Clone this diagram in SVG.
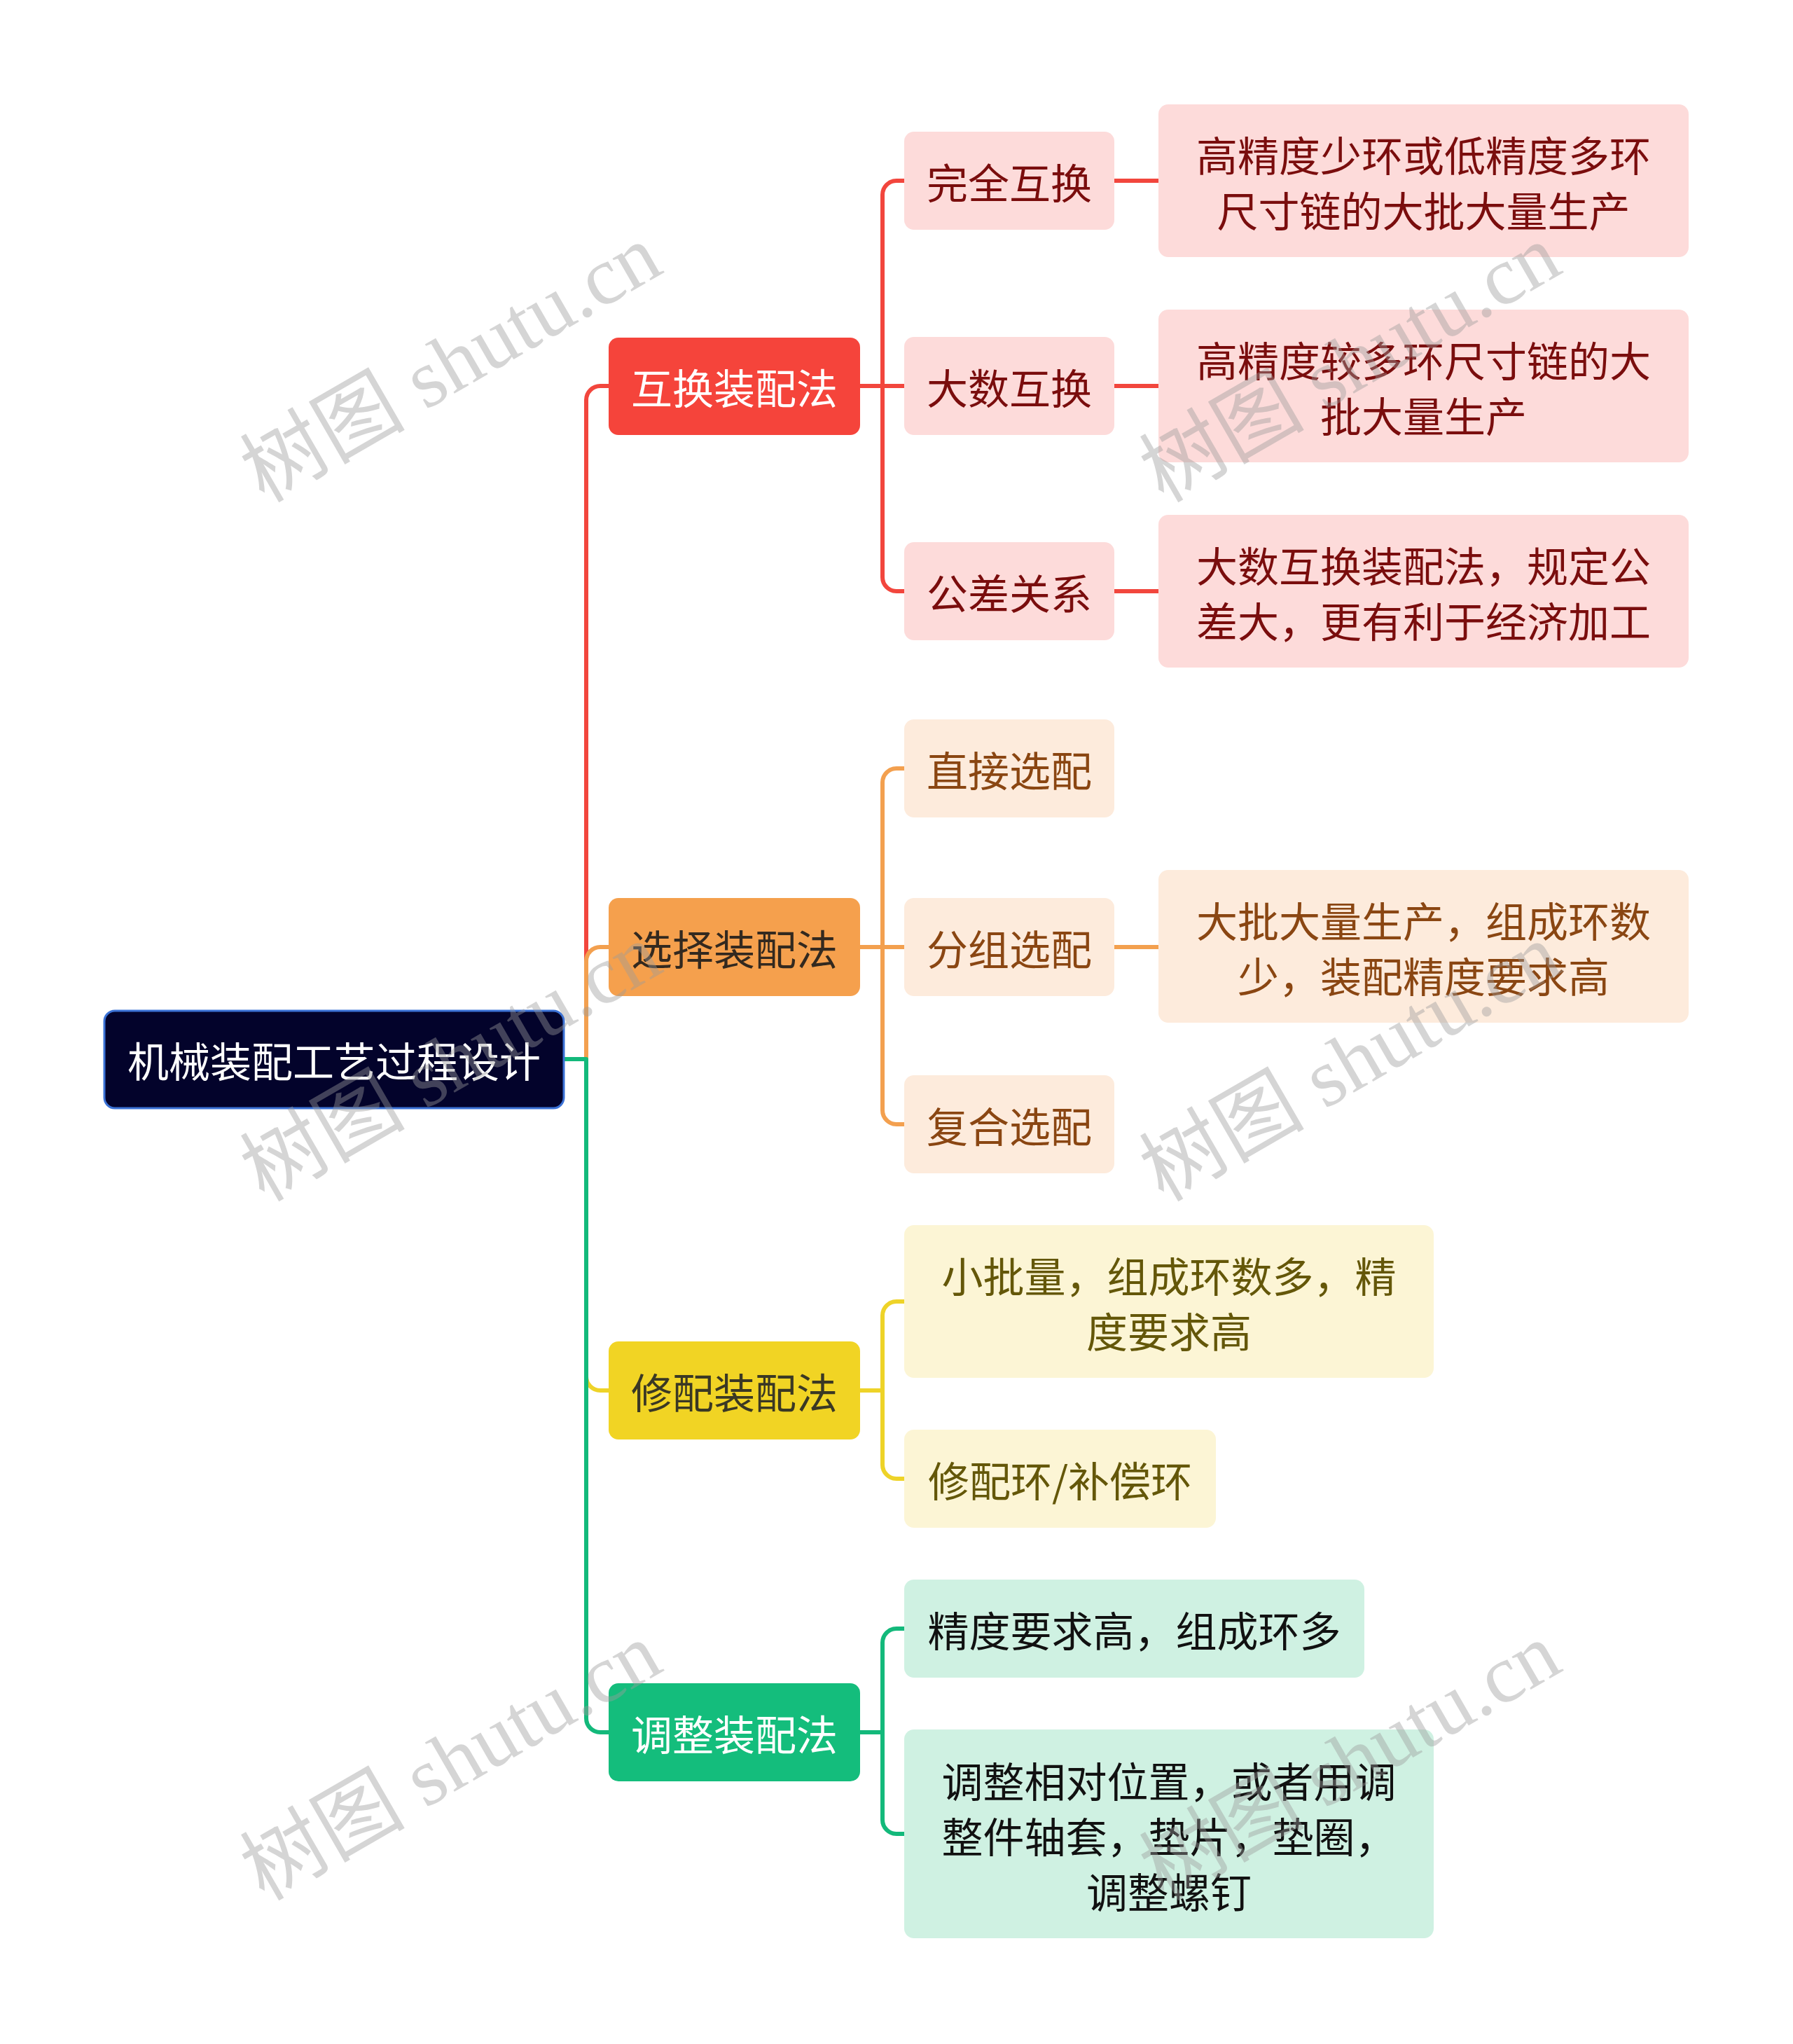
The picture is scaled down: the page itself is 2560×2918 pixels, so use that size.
<svg xmlns="http://www.w3.org/2000/svg" width="2560" height="2918" viewBox="0 0 2560 2918">
<style>
text{font-family:"Noto Sans CJK SC","Noto Sans",sans-serif;font-size:59px;text-anchor:middle;dominant-baseline:central}
.c{fill:none;stroke-width:6;stroke-linecap:butt;stroke-linejoin:round}
.cr{stroke:#f2463d}.co{stroke:#f3a04f}.cy{stroke:#eed328}.cg{stroke:#13b97b}
.r1{fill:#f5443b}.r2{fill:#fddbda}.tr2{fill:#7a0d0d}
.o1{fill:#f5a04d}.o2{fill:#fdebdc}.to1{fill:#33291f}.to2{fill:#8a4612}
.y1{fill:#f1d424}.y2{fill:#fcf5d5}.ty1{fill:#3a3824}.ty2{fill:#645709}
.g1{fill:#14bd7c}.g2{fill:#cff1e2}.tg2{fill:#111111}
.w{fill:#ffffff}
.wm{font-family:"Liberation Serif","Noto Sans CJK SC",serif;font-size:118px;fill:#9a9a9a;fill-opacity:0.42;text-anchor:middle}
</style>
<rect width="2560" height="2918" fill="#ffffff"/>
<g id="connectors">
<path class="c cr" d="M805,1512 H837 V571 A20,20 0 0 1 857,551 H869"/>
<path class="c co" d="M805,1512 H837 V1372 A20,20 0 0 1 857,1352 H869"/>
<path class="c cy" d="M805,1512 H837 V1965 A20,20 0 0 0 857,1985 H869"/>
<path class="c cg" d="M805,1512 H837 V2453 A20,20 0 0 0 857,2473 H869"/>
<path class="c cr" d="M1228,551 H1260 V278 A20,20 0 0 1 1280,258 H1291"/>
<path class="c cr" d="M1228,551 H1291"/>
<path class="c cr" d="M1228,551 H1260 V824 A20,20 0 0 0 1280,844 H1291"/>
<path class="c cr" d="M1591,258 H1654 M1591,551 H1654 M1591,844 H1654"/>
<path class="c co" d="M1228,1352 H1260 V1117 A20,20 0 0 1 1280,1097 H1291"/>
<path class="c co" d="M1228,1352 H1291"/>
<path class="c co" d="M1228,1352 H1260 V1585 A20,20 0 0 0 1280,1605 H1291"/>
<path class="c co" d="M1591,1352 H1654"/>
<path class="c cy" d="M1228,1985 H1260 V1878 A20,20 0 0 1 1280,1858 H1291"/>
<path class="c cy" d="M1228,1985 H1260 V2091 A20,20 0 0 0 1280,2111 H1291"/>
<path class="c cg" d="M1228,2473 H1260 V2345 A20,20 0 0 1 1280,2325 H1291"/>
<path class="c cg" d="M1228,2473 H1260 V2598 A20,20 0 0 0 1280,2618 H1291"/>
</g>
<g id="root">
<rect x="149" y="1443" width="656" height="139" rx="15" fill="#03032b" stroke="#3b72d6" stroke-width="3"/>
<text class="w" x="477" y="1512">机械装配工艺过程设计</text>
</g>
<g id="n-huhuan">
<rect class="r1" x="869" y="482" width="359" height="139" rx="14"/>
<text class="w" x="1048.5" y="551">互换装配法</text>
</g>
<g id="n-wanquan">
<rect class="r2" x="1291" y="188" width="300" height="140" rx="14"/>
<text class="tr2" x="1441" y="258">完全互换</text>
</g>
<g id="n-wanquan-d">
<rect class="r2" x="1654" y="149" width="757" height="218" rx="14"/>
<text class="tr2" x="2032.5" y="219">高精度少环或低精度多环</text>
<text class="tr2" x="2032.5" y="298">尺寸链的大批大量生产</text>
</g>
<g id="n-dashu">
<rect class="r2" x="1291" y="481" width="300" height="140" rx="14"/>
<text class="tr2" x="1441" y="551">大数互换</text>
</g>
<g id="n-dashu-d">
<rect class="r2" x="1654" y="442" width="757" height="218" rx="14"/>
<text class="tr2" x="2032.5" y="512">高精度较多环尺寸链的大</text>
<text class="tr2" x="2032.5" y="591">批大量生产</text>
</g>
<g id="n-gongcha">
<rect class="r2" x="1291" y="774" width="300" height="140" rx="14"/>
<text class="tr2" x="1441" y="844">公差关系</text>
</g>
<g id="n-gongcha-d">
<rect class="r2" x="1654" y="735" width="757" height="218" rx="14"/>
<text class="tr2" x="2032.5" y="805">大数互换装配法，规定公</text>
<text class="tr2" x="2032.5" y="884">差大，更有利于经济加工</text>
</g>
<g id="n-xuanze">
<rect class="o1" x="869" y="1282" width="359" height="140" rx="14"/>
<text class="to1" x="1048.5" y="1352">选择装配法</text>
</g>
<g id="n-zhijie">
<rect class="o2" x="1291" y="1027" width="300" height="140" rx="14"/>
<text class="to2" x="1441" y="1097">直接选配</text>
</g>
<g id="n-fenzu">
<rect class="o2" x="1291" y="1282" width="300" height="140" rx="14"/>
<text class="to2" x="1441" y="1352">分组选配</text>
</g>
<g id="n-fenzu-d">
<rect class="o2" x="1654" y="1242" width="757" height="218" rx="14"/>
<text class="to2" x="2032.5" y="1312">大批大量生产，组成环数</text>
<text class="to2" x="2032.5" y="1391">少，装配精度要求高</text>
</g>
<g id="n-fuhe">
<rect class="o2" x="1291" y="1535" width="300" height="140" rx="14"/>
<text class="to2" x="1441" y="1605">复合选配</text>
</g>
<g id="n-xiupei">
<rect class="y1" x="869" y="1915" width="359" height="140" rx="14"/>
<text class="ty1" x="1048.5" y="1985">修配装配法</text>
</g>
<g id="n-xiaopi">
<rect class="y2" x="1291" y="1749" width="756" height="218" rx="14"/>
<text class="ty2" x="1669" y="1819">小批量，组成环数多，精</text>
<text class="ty2" x="1669" y="1898">度要求高</text>
</g>
<g id="n-xiupeihuan">
<rect class="y2" x="1291" y="2041" width="445" height="140" rx="14"/>
<text class="ty2" x="1513.5" y="2111">修配环/补偿环</text>
</g>
<g id="n-tiaozheng">
<rect class="g1" x="869" y="2403" width="359" height="140" rx="14"/>
<text class="w" x="1048.5" y="2473">调整装配法</text>
</g>
<g id="n-jingdu">
<rect class="g2" x="1291" y="2255" width="657" height="140" rx="14"/>
<text class="tg2" x="1619.5" y="2325">精度要求高，组成环多</text>
</g>
<g id="n-tiaozheng-d">
<rect class="g2" x="1291" y="2469" width="756" height="298" rx="14"/>
<text class="tg2" x="1669" y="2540">调整相对位置，或者用调</text>
<text class="tg2" x="1669" y="2619">整件轴套，垫片，垫圈，</text>
<text class="tg2" x="1669" y="2698">调整螺钉</text>
</g>
<g id="watermarks">
<text class="wm" transform="translate(644 519) rotate(-30)">树图 shutu.cn</text>
<text class="wm" transform="translate(1928 519) rotate(-30)">树图 shutu.cn</text>
<text class="wm" transform="translate(644 1517) rotate(-30)">树图 shutu.cn</text>
<text class="wm" transform="translate(1928 1517) rotate(-30)">树图 shutu.cn</text>
<text class="wm" transform="translate(644 2515) rotate(-30)">树图 shutu.cn</text>
<text class="wm" transform="translate(1928 2515) rotate(-30)">树图 shutu.cn</text>
</g>
</svg>
